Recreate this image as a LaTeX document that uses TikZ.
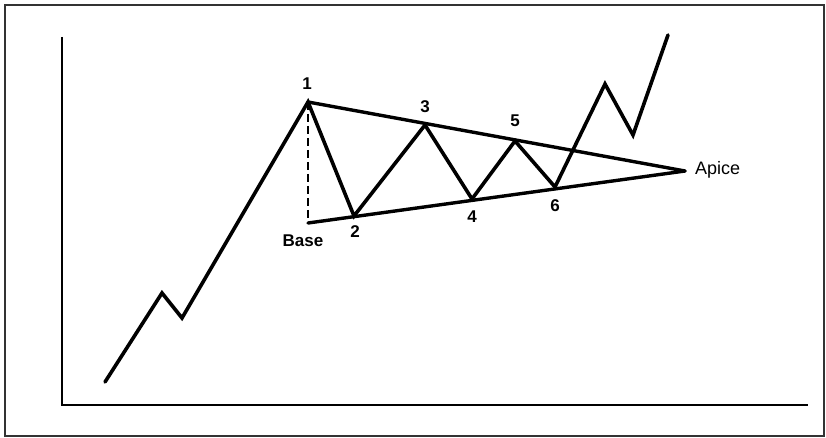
\documentclass[tikz,border=0pt]{standalone}
\usepackage{fontspec}
\setmainfont{Liberation Sans}
\usepackage{tikz}
\usetikzlibrary{positioning}

\begin{document}
\begin{tikzpicture}[x=1pt, y=-1pt,
          price/.style={draw=black, line width=3.6pt, line join=miter, line cap=round},
          tline/.style={draw=black, line width=3.4pt, line cap=round},
          axis/.style={draw=black, line width=1.8pt},
          num/.style={font=\fontsize{17}{20}\selectfont\bfseries, inner sep=0pt},
          lab/.style={font=\fontsize{18}{21}\selectfont, inner sep=0pt}
        ]
        \useasboundingbox (0,0) rectangle (826,438);
        \draw[line width=1.4pt, draw=black!80] (5,5) rectangle (824,436);

        % axes
        \coordinate (ytop)   at (62,37);
        \coordinate (origin) at (62,405);
        \coordinate (xend)   at (808,405);
        \draw[axis] (ytop) -- (origin) -- (xend);

        % swing points
        \coordinate (s0) at (105,382);
        \coordinate (s1) at (162,293);
        \coordinate (s2) at (182,318);
        \coordinate (p1) at (308,102);
        \coordinate (p2) at (354,216);
        \coordinate (p3) at (425,125);
        \coordinate (p4) at (472,199);
        \coordinate (p5) at (515,141);
        \coordinate (p6) at (555,187);
        \coordinate (b1) at (605,84);
        \coordinate (b2) at (633,135);
        \coordinate (b3) at (668,35);
        \coordinate (base) at (308,223);
        \coordinate (apex) at (685,171);

        % triangle
        \draw[tline] (p1) -- (apex);
        \draw[tline] (base) -- (apex);
        \draw[line width=2.4pt, dash pattern=on 8pt off 4pt] (p1) -- (base);

        % price
        \draw[price] (s0) -- (s1) -- (s2) -- (p1) -- (p2) -- (p3) -- (p4)
                     -- (p5) -- (p6) -- (b1) -- (b2) -- (b3);

        \node[num] (n1) at (307,84)  {1};
        \node[num] (n2) at (355,232) {2};
        \node[num] (n3) at (425,107) {3};
        \node[num] (n4) at (472,217) {4};
        \node[num] (n5) at (515,121) {5};
        \node[num] (n6) at (555,206) {6};
        \node[num] (nbase) at (303,241) {Base};
        \node[lab, anchor=west] (napex) at (695,170) {Apice};
      \end{tikzpicture}
\end{document}
